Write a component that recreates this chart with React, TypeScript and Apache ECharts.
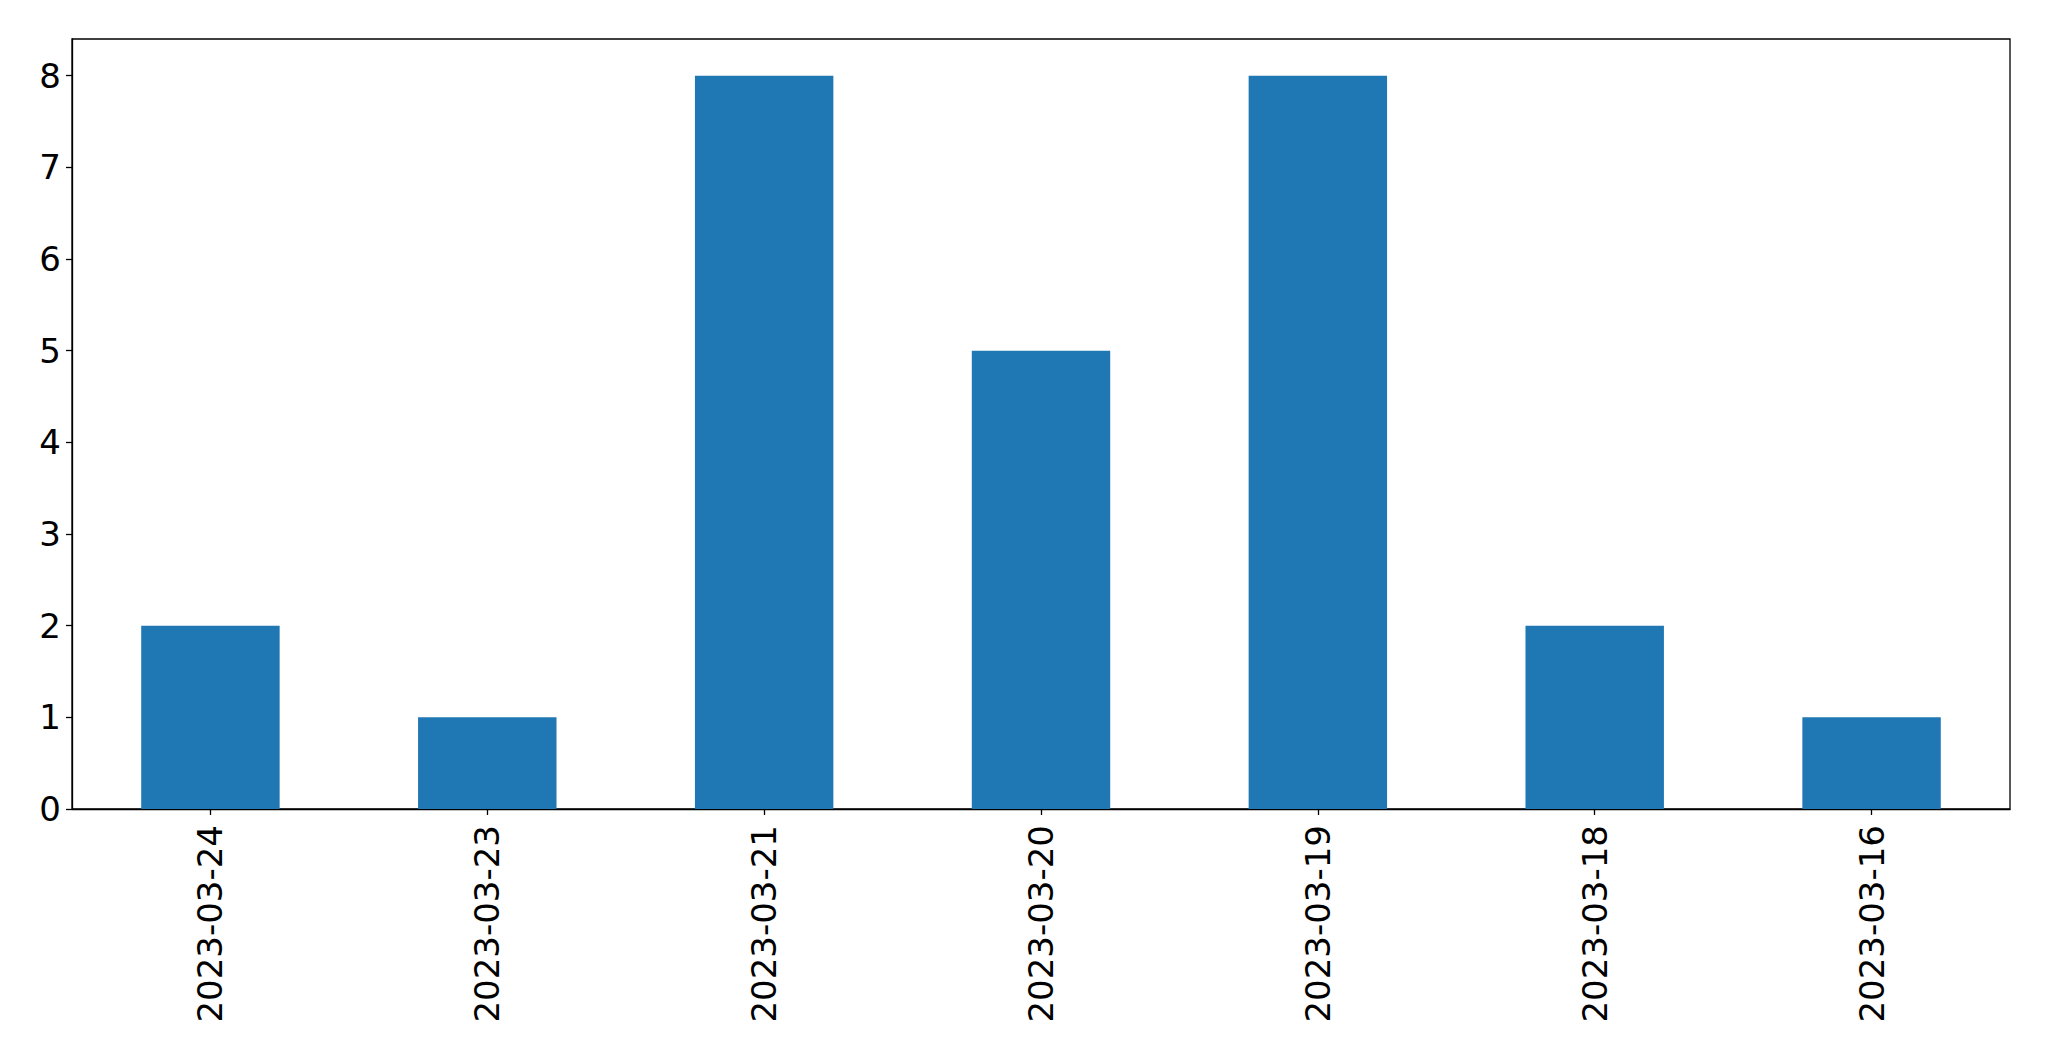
import React, { useEffect, useRef } from "react";
import * as echarts from "echarts";

const categories = ["2023-03-24", "2023-03-23", "2023-03-21", "2023-03-20", "2023-03-19", "2023-03-18", "2023-03-16"];
const values = [2, 1, 8, 5, 8, 2, 1];

export default function App() {
  const ref = useRef<HTMLDivElement>(null);
  useEffect(() => {
    if (!ref.current) return;
    const chart = echarts.init(ref.current, null, { renderer: "svg" });
    const font = "DejaVu Sans";
    chart.setOption({
      animation: false,
      backgroundColor: "#ffffff",
      grid: {
        left: 72,
        right: 39,
        top: 39,
        bottom: 252,
        show: true,
        borderColor: "#000000",
        borderWidth: 1.3,
        containLabel: false,
      },
      xAxis: {
        type: "category",
        data: categories,
        boundaryGap: true,
        axisLine: { show: true, lineStyle: { color: "#000000", width: 1.3 } },
        axisTick: { show: true, alignWithLabel: true, length: 6, lineStyle: { color: "#000000", width: 1.3 } },
        axisLabel: { rotate: 90, margin: 16, color: "#000000", fontSize: 34, fontFamily: font, interval: 0 },
        splitLine: { show: false },
      },
      yAxis: {
        type: "value",
        min: 0,
        max: 8.4,
        interval: 1,
        axisLine: { show: true, lineStyle: { color: "#000000", width: 1.3 } },
        axisTick: { show: true, length: 6, lineStyle: { color: "#000000", width: 1.3 } },
        axisLabel: {
          margin: 11,
          color: "#000000",
          fontSize: 34,
          fontFamily: font,
          showMaxLabel: false,
          formatter: (v: number) => (Number.isInteger(v) ? String(v) : ""),
        },
        splitLine: { show: false },
      },
      series: [
        {
          type: "bar",
          data: values,
          barWidth: "50%",
          itemStyle: { color: "#1f77b4" },
        },
      ],
    });
    return () => chart.dispose();
  }, []);
  return (
    <div
      ref={ref}
      style={{ position: "fixed", left: 0, top: 0, width: 2049, height: 1061, background: "#ffffff" }}
    />
  );
}
